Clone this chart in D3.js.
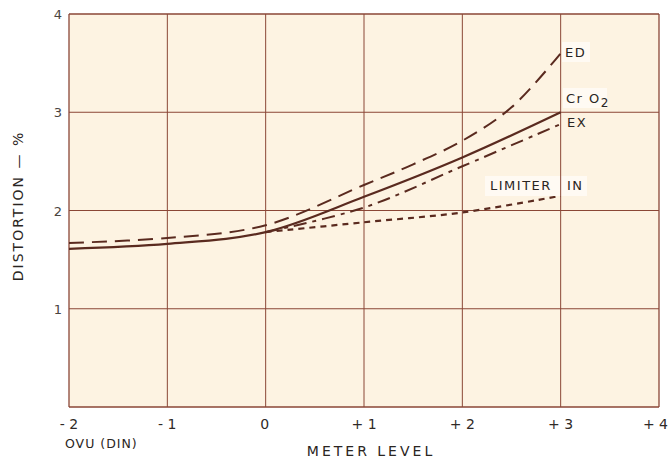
<!DOCTYPE html>
<html>
<head>
<meta charset="utf-8">
<script src="https://cdn.jsdelivr.net/npm/d3@7"></script>
<style>
  body { margin: 0; background: #fff; }
  text { font-family: "DejaVu Sans", "Liberation Sans", sans-serif; fill: #2a2522; }
</style>
</head>
<body>
<div id="chart"></div>
<script>
// meter level (x) and distortion % (y)
var levels = [-2, -1, 0, 1, 2, 3];
var cro2 = [1.61, 1.66, 1.78, 2.14, 2.54, 3.0];
var edLevels = [-2, -1, 0, 1, 1.5, 2, 2.5, 3];
var ed = [1.67, 1.72, 1.85, 2.26, 2.47, 2.71, 3.05, 3.6];
var exLevels = [0, 1, 2, 3];
var ex = [1.78, 2.03, 2.45, 2.88];
var limiter = [1.78, 1.88, 1.98, 2.15];
var xTicks = [-2, -1, 0, 1, 2, 3, 4];
var xTickLabels = ["- 2", "- 1", "0", "+ 1", "+ 2", "+ 3", "+ 4"];
var yTicks = [1, 2, 3, 4];

var width = 669, height = 464;
var x = d3.scaleLinear().domain([-2, 4]).range([69, 659]);
var y = d3.scaleLinear().domain([0, 4]).range([407, 14]);

var svg = d3.select("#chart").append("svg")
    .attr("width", width)
    .attr("height", height);

// plot background
svg.append("rect")
    .attr("x", x(-2)).attr("y", y(4))
    .attr("width", x(4) - x(-2))
    .attr("height", y(0) - y(4))
    .style("fill", "#fdf3e2");

var gridColor = "#8a4636";
// vertical grid
svg.append("g").selectAll("line")
    .data(xTicks)
  .enter().append("line")
    .attr("x1", function(d) { return x(d); })
    .attr("x2", function(d) { return x(d); })
    .attr("y1", y(0)).attr("y2", y(4))
    .style("stroke", gridColor)
    .style("stroke-width", function(d) { return (d === -2 || d === 4) ? 1.3 : 1; });
// horizontal grid
svg.append("g").selectAll("line")
    .data([0, 1, 2, 3, 4])
  .enter().append("line")
    .attr("x1", x(-2)).attr("x2", x(4))
    .attr("y1", function(d) { return y(d); })
    .attr("y2", function(d) { return y(d); })
    .style("stroke", gridColor)
    .style("stroke-width", function(d) { return (d === 0 || d === 4) ? 1.3 : 1; });

// tick labels
svg.append("g").selectAll("text")
    .data(yTicks)
  .enter().append("text")
    .attr("x", 62)
    .attr("y", function(d) { return y(d) + 5; })
    .attr("text-anchor", "end")
    .style("font-size", "13px")
    .style("fill", "#4a4440")
    .text(function(d) { return d; });

svg.append("g").selectAll("text")
    .data(xTicks)
  .enter().append("text")
    .attr("x", function(d) { return d === 4 ? 668 : x(d) + (d === 0 ? -1 : 0); })
    .attr("y", 429)
    .attr("text-anchor", function(d) { return d === 4 ? "end" : "middle"; })
    .style("font-size", "14px")
    .style("fill", "#2f2a27")
    .text(function(d, i) { return xTickLabels[i]; });

// axis titles
svg.append("text")
    .attr("x", 65).attr("y", 448)
    .style("font-size", "12.5px")
    .style("letter-spacing", "1px")
    .text("OVU (DIN)");

svg.append("text")
    .attr("x", 371).attr("y", 456)
    .attr("text-anchor", "middle")
    .style("font-size", "14px")
    .style("letter-spacing", "3px")
    .text("METER LEVEL");

svg.append("text")
    .attr("transform", "translate(23,206) rotate(-90)")
    .attr("text-anchor", "middle")
    .style("font-size", "14px")
    .style("letter-spacing", "2px")
    .text("DISTORTION \u2014 %");

// curves
var line = d3.line()
    .x(function(d) { return x(d[0]); })
    .y(function(d) { return y(d[1]); })
    .curve(d3.curveCatmullRom.alpha(0.5));

var curveColor = "#5a2a1f";
var series = [
  { lv: edLevels, v: ed, dash: "15,8", w: 2 },
  { lv: exLevels, v: ex, dash: "13,6,4,6", w: 2 },
  { lv: exLevels, v: limiter, dash: "6,5", w: 2.2 },
  { lv: levels, v: cro2, dash: null, w: 2.2 }
];

series.forEach(function(s) {
  svg.append("path")
      .datum(s.lv.map(function(l, i) { return [l, s.v[i]]; }))
      .attr("d", line)
      .style("fill", "none")
      .style("stroke", curveColor)
      .style("stroke-width", s.w)
      .style("stroke-dasharray", s.dash);
});

// curve labels, on light boxes
function box(bx, by, bw, bh) {
  svg.append("rect")
      .attr("x", bx).attr("y", by)
      .attr("width", bw).attr("height", bh)
      .style("fill", "#fffaf3");
}
function label(tx, ty, txt) {
  return svg.append("text")
      .attr("x", tx).attr("y", ty)
      .style("font-size", "13px")
      .style("letter-spacing", "1.5px")
      .text(txt);
}
box(562, 42, 28, 20);
label(565, 57, "ED");
box(563, 88, 44, 20);
var cl = label(566, 103, "Cr O");
cl.append("tspan").attr("dy", 4).style("font-size", "12px").text("2");
label(567, 127, "EX");
box(485, 176, 102, 20);
label(490, 190, "LIMITER");
label(567, 190, "IN");
// the +3 grid line shows through the label box
svg.append("line")
    .attr("x1", x(3)).attr("x2", x(3))
    .attr("y1", 176).attr("y2", 196)
    .style("stroke", gridColor);
</script>
</body>
</html>
